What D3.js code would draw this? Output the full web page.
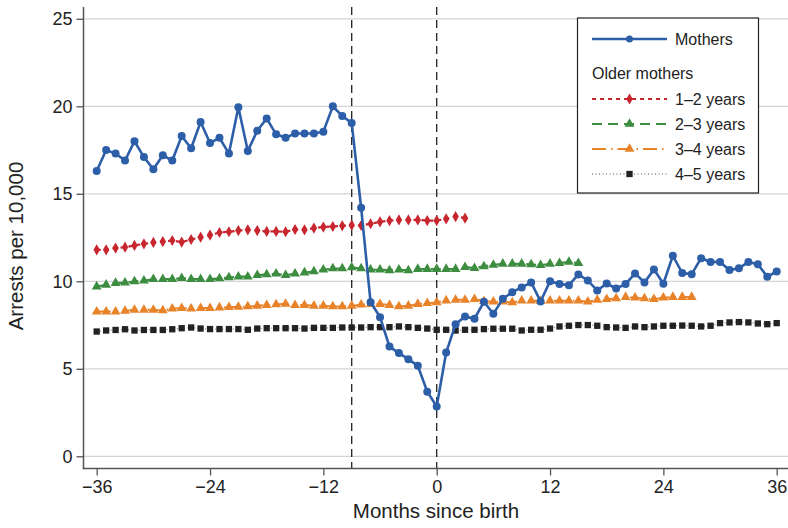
<!DOCTYPE html>
<html><head><meta charset="utf-8">
<script src="https://cdn.jsdelivr.net/npm/d3@7"></script>
<style>body{margin:0;background:#fff}svg{font-family:"Liberation Sans",Arial,sans-serif}</style>
</head><body><svg id="c" width="788" height="528"></svg>
<script>
const xTicks = [-36, -24, -12, 0, 12, 24, 36];
const yTicks = [0, 5, 10, 15, 20, 25];
const refLines = [-9, 0];

const monthsAll = d3.range(-36, 37);
const mothers = [16.3,17.5,17.3,16.9,18.0,17.1,16.4,17.2,16.9,18.3,17.6,19.1,17.9,18.2,17.3,19.95,17.45,18.6,19.3,18.4,18.2,18.45,18.45,18.45,18.55,20.0,19.45,19.05,
 14.2,8.8,7.95,6.27,5.9,5.55,5.17,3.69,2.85,
 5.93,7.55,7.99,7.86,8.83,8.14,9.0,9.38,9.65,9.93,8.85,10.01,9.84,9.78,10.39,10.05,9.47,9.87,9.59,9.84,10.45,9.93,10.68,9.86,11.46,10.47,10.41,11.32,11.11,11.1,10.64,10.75,11.1,10.98,10.26,10.56];

const months12 = d3.range(-36, 4);
const older12 = [11.8,11.8,11.9,11.95,12.05,12.14,12.22,12.27,12.33,12.24,12.39,12.52,12.64,12.79,12.83,12.9,12.94,12.9,12.85,12.85,12.83,12.96,12.94,13.04,13.1,13.13,13.17,13.21,13.19,13.29,13.4,13.47,13.51,13.51,13.51,13.47,13.47,13.57,13.7,13.61];

const months23 = d3.range(-36, 16);
const older23 = [9.7,9.8,9.9,9.92,9.99,10.03,10.12,10.12,10.12,10.18,10.12,10.12,10.12,10.16,10.22,10.27,10.27,10.35,10.39,10.43,10.35,10.43,10.5,10.56,10.66,10.73,10.73,10.79,10.73,10.66,10.66,10.62,10.66,10.62,10.7,10.7,10.7,10.7,10.7,10.81,10.75,10.85,10.94,11.0,11.0,11.0,10.96,10.92,11.0,11.04,11.11,11.04];

const months34 = d3.range(-36, 28);
const older34 = [8.27,8.27,8.27,8.31,8.37,8.37,8.37,8.33,8.43,8.47,8.43,8.47,8.47,8.5,8.52,8.54,8.56,8.6,8.64,8.68,8.71,8.64,8.64,8.6,8.6,8.56,8.56,8.6,8.66,8.7,8.7,8.64,8.56,8.6,8.7,8.75,8.79,8.9,8.94,8.94,8.98,8.87,8.83,8.83,8.79,8.89,8.89,8.87,8.89,8.89,8.89,8.89,8.83,8.94,8.98,9.02,9.1,9.06,9.02,8.98,9.06,9.1,9.1,9.1];

const older45 = [7.13,7.19,7.22,7.26,7.19,7.22,7.22,7.22,7.26,7.32,7.36,7.3,7.27,7.27,7.27,7.27,7.23,7.3,7.32,7.32,7.32,7.32,7.3,7.34,7.34,7.34,7.36,7.36,7.36,7.38,7.38,7.38,7.42,7.38,7.34,7.3,7.23,
 7.23,7.19,7.23,7.23,7.27,7.29,7.29,7.29,7.19,7.23,7.23,7.3,7.42,7.46,7.5,7.5,7.46,7.38,7.36,7.34,7.42,7.38,7.42,7.46,7.46,7.47,7.46,7.42,7.46,7.61,7.65,7.67,7.65,7.59,7.55,7.61];

const legendLabels = ["Mothers", "Older mothers", "1–2 years", "2–3 years", "3–4 years", "4–5 years"];
const xTitle = "Months since birth";
const yTitle = "Arrests per 10,000";

const svg = d3.select("#c");
const x = d3.scaleLinear().domain([-36, 36]).range([96.7, 776.7]);
const y = d3.scaleLinear().domain([0, 25]).range([456.3, 18.8]);
const axisX = 83.5, axisY = 468.5;

// gridlines
svg.append("g").selectAll("line").data(yTicks).join("line")
  .attr("x1", axisX).attr("x2", 788).attr("y1", d => y(d)).attr("y2", d => y(d))
  .attr("stroke", "#d4d4d4").attr("stroke-width", 1.3);

// reference lines
svg.append("g").selectAll("line").data(refLines).join("line")
  .attr("x1", d => x(d)).attr("x2", d => x(d)).attr("y1", 7).attr("y2", axisY)
  .attr("stroke", "#222").attr("stroke-width", 1.3).attr("stroke-dasharray", "8,5");

// axes
const yAxis = svg.append("g").attr("transform", `translate(${axisX},0)`)
  .call(d3.axisLeft(y).tickValues(yTicks).tickSize(7).tickPadding(4).tickFormat(d3.format("d")));
const xAxis = svg.append("g").attr("transform", `translate(0,${axisY})`)
  .call(d3.axisBottom(x).tickValues(xTicks).tickSize(7).tickPadding(5).tickFormat(d => d < 0 ? "\u2212" + Math.abs(d) : d));
[yAxis, xAxis].forEach(g => {
  g.select(".domain").remove();
  g.selectAll("line").attr("stroke", "#555").attr("stroke-width", 1.3);
  g.selectAll("text").attr("fill", "#222").style("font-size", "18px").style("font-family", "Liberation Sans, Arial, sans-serif");
});
svg.append("line").attr("x1", axisX).attr("x2", axisX).attr("y1", 7).attr("y2", axisY + 0.7).attr("stroke", "#555").attr("stroke-width", 1.5);
svg.append("line").attr("x1", axisX - 0.7).attr("x2", 788).attr("y1", axisY).attr("y2", axisY).attr("stroke", "#555").attr("stroke-width", 1.5);

svg.append("text").attr("x", 436).attr("y", 518).attr("text-anchor", "middle")
  .attr("fill", "#222").style("font-size", "20.5px").text(xTitle);
svg.append("text").attr("transform", "translate(23,246) rotate(-90)").attr("text-anchor", "middle")
  .attr("fill", "#222").style("font-size", "20.5px").text(yTitle);

const C = {blue: "#2d5ea8", red: "#c8262e", green: "#3d8d41", orange: "#e8832a", black: "#222"};
const sym = {
  diamond: d3.symbol().type(d3.symbolDiamond).size(36),
  triangle: d3.symbol().type(d3.symbolTriangle).size(42),
  square: d3.symbol().type(d3.symbolSquare).size(40)
};

function series(ms, vals, color, dash, width, marker, lineColor) {
  const pts = ms.map((m, i) => [m, vals[i]]);
  const line = d3.line().x(d => x(d[0])).y(d => y(d[1]));
  const g = svg.append("g");
  g.append("path").attr("d", line(pts)).attr("fill", "none")
    .attr("stroke", lineColor || color).attr("stroke-width", width).attr("stroke-dasharray", dash);
  if (marker === "circle") {
    g.selectAll("circle").data(pts).join("circle").attr("cx", d => x(d[0])).attr("cy", d => y(d[1]))
      .attr("r", 4).attr("fill", color);
  } else {
    g.selectAll("path.m").data(pts).join("path").attr("class", "m")
      .attr("transform", d => `translate(${x(d[0])},${y(d[1])})`)
      .attr("d", sym[marker]()).attr("fill", color);
  }
}

series(monthsAll, older45, C.black, "1,2.5", 1.3, "square", "#888");
series(months34, older34, C.orange, "14,5,1.5,5", 2, "triangle");
series(months23, older23, C.green, "10,6", 2.2, "triangle");
series(months12, older12, C.red, "4,4", 2.2, "diamond");
series(monthsAll, mothers, C.blue, null, 2.6, "circle");

// legend
const lg = svg.append("g");
lg.append("rect").attr("x", 577.5).attr("y", 18).attr("width", 181).attr("height", 175)
  .attr("fill", "#fff").attr("stroke", "#222").attr("stroke-width", 1.2);
const lx1 = 592, lx2 = 667, lxm = (lx1 + lx2) / 2, tx = 675;
const items = [
  {label: legendLabels[0], yy: 39, color: C.blue, dash: null, w: 2.6, marker: "circle", lc: null},
  {label: legendLabels[2], yy: 99, color: C.red, dash: "4,4", w: 2.2, marker: "diamond", lc: null},
  {label: legendLabels[3], yy: 124, color: C.green, dash: "10,6", w: 2.2, marker: "triangle", lc: null},
  {label: legendLabels[4], yy: 149, color: C.orange, dash: "14,5,1.5,5", w: 2, marker: "triangle", lc: null},
  {label: legendLabels[5], yy: 174, color: C.black, dash: "1,2.5", w: 1.3, marker: "square", lc: "#888"}
];
items.forEach(it => {
  lg.append("line").attr("x1", lx1).attr("x2", lx2).attr("y1", it.yy).attr("y2", it.yy)
    .attr("stroke", it.lc || it.color).attr("stroke-width", it.w).attr("stroke-dasharray", it.dash);
  if (it.marker === "circle") lg.append("circle").attr("cx", lxm).attr("cy", it.yy).attr("r", 3.5).attr("fill", it.color);
  else lg.append("path").attr("transform", `translate(${lxm},${it.yy})`).attr("d", sym[it.marker]()).attr("fill", it.color);
  lg.append("text").attr("x", tx).attr("y", it.yy).attr("dy", "0.35em").attr("fill", "#222")
    .style("font-size", "16px").text(it.label);
});
lg.append("text").attr("x", lx1).attr("y", 73).attr("dy", "0.35em").attr("fill", "#222")
  .style("font-size", "16px").text(legendLabels[1]);
</script></body></html>
